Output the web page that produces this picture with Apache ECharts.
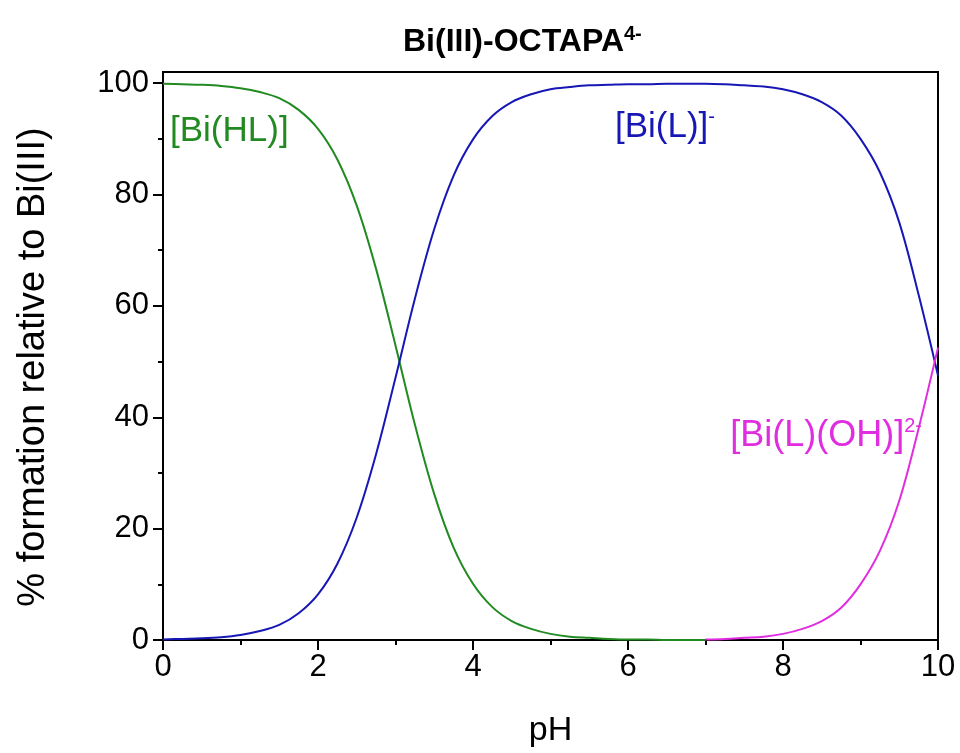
<!DOCTYPE html>
<html>
<head>
<meta charset="utf-8">
<title>Bi(III)-OCTAPA speciation</title>
<script src="https://cdn.jsdelivr.net/npm/echarts@6/dist/echarts.min.js"></script>
<style>
  html, body { margin: 0; padding: 0; background: #fff; }
  #chart { width: 960px; height: 753px; }
</style>
</head>
<body>
<div id="chart"></div>
<script>
// pH grid for each species curve
const phAcid = [0, 0.25, 0.5, 0.75, 1, 1.25, 1.5, 1.75, 2, 2.25, 2.5, 2.75, 3, 3.25, 3.5, 3.75,
  4, 4.25, 4.5, 4.75, 5, 5.25, 5.5, 5.75, 6, 6.25, 6.5, 6.75, 7];
const phFull = [0, 0.25, 0.5, 0.75, 1, 1.25, 1.5, 1.75, 2, 2.25, 2.5, 2.75, 3, 3.25, 3.5, 3.75,
  4, 4.25, 4.5, 4.75, 5, 5.25, 5.5, 5.75, 6, 6.25, 6.5, 6.75, 7, 7.25, 7.5, 7.75,
  8, 8.25, 8.5, 8.75, 9, 9.25, 9.5, 9.75, 10];
const phBasic = [7, 7.25, 7.5, 7.75, 8, 8.25, 8.5, 8.75, 9, 9.25, 9.5, 9.75, 10];

// % formation relative to Bi(III)
const biHL = [99.9, 99.8, 99.7, 99.5, 99.1, 98.4, 97.3, 95.2, 91.8, 86.3, 78.0, 66.6, 52.9, 38.7, 26.2, 16.6,
  10.1, 5.9, 3.4, 2.0, 1.1, 0.6, 0.4, 0.2, 0.1, 0.1, 0.0, 0.0, 0.0];
const biL = [0.1, 0.2, 0.3, 0.5, 0.9, 1.6, 2.7, 4.8, 8.2, 13.7, 22.0, 33.4, 47.1, 61.3, 73.8, 83.4,
  89.9, 94.1, 96.6, 98.0, 98.9, 99.3, 99.6, 99.7, 99.8, 99.8, 99.9, 99.9, 99.9, 99.8, 99.6, 99.4,
  98.9, 98.0, 96.6, 94.2, 90.0, 84.0, 75.0, 62.0, 47.5];
const biLOH = [0.1, 0.2, 0.4, 0.6, 1.1, 2.0, 3.4, 5.8, 10.0, 16.0, 25.0, 38.0, 52.5];

// axis ticks
const yMajorTicks = [0, 20, 40, 60, 80, 100];
const yMinorTicks = [10, 30, 50, 70, 90];

const FONT = '"Liberation Sans", Arial, sans-serif';
const GREEN = '#218a21';
const BLUE = '#1717b5';
const MAGENTA = '#e02de0';

const pairs = (xs, ys) => xs.map((x, i) => [x, ys[i]]);

const chart = echarts.init(document.getElementById('chart'), null, { renderer: 'canvas' });

const curve = (name, data, color, z) => ({
  name,
  type: 'line',
  data,
  smooth: 0.35,
  showSymbol: false,
  lineStyle: { color, width: 2 },
  z
});

chart.setOption({
  animation: false,
  backgroundColor: '#fff',
  title: {
    text: '{m|Bi(III)-OCTAPA}{s|4-}',
    left: 398,
    top: 19,
    textStyle: {
      rich: {
        m: { fontSize: 32, fontWeight: 'bold', fontFamily: FONT, color: '#000', lineHeight: 36 },
        s: { fontSize: 20, fontWeight: 'bold', fontFamily: FONT, color: '#000', verticalAlign: 'top', lineHeight: 20 }
      }
    }
  },
  grid: {
    left: 163, right: 22, top: 72, bottom: 112,
    show: true, borderColor: '#000', borderWidth: 2, backgroundColor: 'transparent'
  },
  xAxis: {
    type: 'value',
    min: 0, max: 10, interval: 2,
    name: 'pH',
    nameLocation: 'middle',
    nameGap: 74,
    nameTextStyle: { fontSize: 34, fontFamily: FONT, color: '#000' },
    axisLine: { show: true, onZero: false, lineStyle: { color: '#000', width: 2 } },
    axisTick: { show: true, inside: false, length: 10, lineStyle: { color: '#000', width: 2 } },
    minorTick: { show: true, splitNumber: 2, length: 5, lineStyle: { color: '#000', width: 2 } },
    axisLabel: { fontSize: 31, fontFamily: FONT, color: '#000', margin: 12 },
    splitLine: { show: false }
  },
  yAxis: [
    {
      type: 'value',
      min: 0, max: 102,
      position: 'left',
      name: '% formation relative to Bi(III)',
      nameLocation: 'middle',
      nameRotate: 90,
      nameGap: 110,
      nameTextStyle: { fontSize: 38, fontFamily: FONT, color: '#000', padding: [0, 22, 0, 0] },
      axisLine: { show: true, lineStyle: { color: '#000', width: 2 } },
      axisTick: { show: true, inside: false, length: 10, customValues: yMajorTicks, lineStyle: { color: '#000', width: 2 } },
      axisLabel: { fontSize: 31, fontFamily: FONT, color: '#000', margin: 14, customValues: yMajorTicks },
      splitLine: { show: false }
    },
    {
      type: 'value',
      min: 0, max: 102,
      position: 'left',
      axisLine: { show: false },
      axisTick: { show: true, inside: false, length: 5, customValues: yMinorTicks, lineStyle: { color: '#000', width: 2 } },
      axisLabel: { show: false },
      splitLine: { show: false }
    }
  ],
  series: [
    curve('[Bi(HL)]', pairs(phAcid, biHL), GREEN, 3),
    curve('[Bi(L)]-', pairs(phFull, biL), BLUE, 4),
    curve('[Bi(L)(OH)]2-', pairs(phBasic, biLOH), MAGENTA, 5)
  ],
  graphic: [
    {
      type: 'text', left: 170, top: 111, z: 10,
      style: { text: '[Bi(HL)]', fontSize: 35, fontFamily: FONT, fill: GREEN, lineHeight: 40 }
    },
    {
      type: 'text', left: 615, top: 107, z: 10,
      style: {
        text: '{m|[Bi(L)]}{s|-}',
        rich: {
          m: { fontSize: 35, fontFamily: FONT, fill: BLUE, lineHeight: 40 },
          s: { fontSize: 20, fontFamily: FONT, fill: BLUE, verticalAlign: 'top', lineHeight: 22 }
        }
      }
    },
    {
      type: 'text', right: 38, top: 416, z: 10,
      style: {
        text: '{m|[Bi(L)(OH)]}{s|2-}',
        rich: {
          m: { fontSize: 36, fontFamily: FONT, fill: MAGENTA, lineHeight: 40 },
          s: { fontSize: 20, fontFamily: FONT, fill: MAGENTA, verticalAlign: 'top', lineHeight: 22 }
        }
      }
    }
  ]
});
</script>
</body>
</html>
